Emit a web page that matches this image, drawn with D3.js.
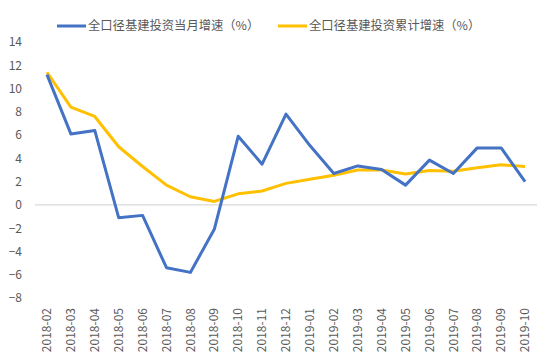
<!DOCTYPE html>
<html><head><meta charset="utf-8">
<script src="https://cdn.jsdelivr.net/npm/d3@7"></script>
<style>body{margin:0;background:#fff}svg{display:block}</style>
</head><body>
<svg id="c" width="558" height="360"></svg>
<script>
const categories = ["2018-02","2018-03","2018-04","2018-05","2018-06","2018-07","2018-08","2018-09","2018-10","2018-11","2018-12","2019-01","2019-02","2019-03","2019-04","2019-05","2019-06","2019-07","2019-08","2019-09","2019-10"];
const monthly = [11.2,6.1,6.4,-1.1,-0.9,-5.4,-5.8,-2.1,5.9,3.5,7.8,5.1,2.7,3.35,3.05,1.7,3.85,2.7,4.9,4.9,2.0];
const cumulative = [11.4,8.4,7.6,5.0,3.3,1.7,0.7,0.3,0.95,1.2,1.85,2.2,2.55,3.0,3.0,2.65,2.95,2.9,3.2,3.45,3.3];
const yTicks = [14,12,10,8,6,4,2,0,-2,-4,-6,-8];
const seriesNames = ["全口径基建投资当月增速（%）","全口径基建投资累计增速（%）"];
const colors = ["#4472C4","#FFC000"];

const svg = d3.select("#c");
const x = d3.scaleBand().domain(categories).range([35,537]);
const y = d3.scaleLinear().domain([-8,14]).range([298,42]);
const font = "'Microsoft YaHei','Noto Sans CJK SC',sans-serif";

// zero line
svg.append("line").attr("x1",35).attr("x2",537).attr("y1",y(0)).attr("y2",y(0))
  .attr("stroke","#d9d9d9").attr("stroke-width",1.3);

// y axis labels
const ya = svg.append("g").attr("transform","translate(22,0)")
  .call(d3.axisLeft(y).tickValues(yTicks).tickSize(0).tickPadding(0));
ya.select(".domain").remove();
ya.selectAll("text").attr("fill","#595959").style("font-size","12px").style("font-family",font);

// x axis labels
const xa = svg.append("g").attr("transform","translate(0,306)")
  .call(d3.axisBottom(x).tickSize(0).tickPadding(0));
xa.select(".domain").remove();
xa.selectAll("text").attr("fill","#595959").style("font-size","12px").style("font-family",font)
  .attr("text-anchor","end").attr("dy","0.35em").attr("dx",0).attr("y",0)
  .attr("transform","rotate(-90)").attr("x",-2);

const line = d3.line().x((d,i)=>x(categories[i])+x.bandwidth()/2).y(d=>y(d));
[cumulative, monthly].forEach((s,k)=>{
  const c = k===0 ? colors[1] : colors[0];
  svg.append("path").datum(s).attr("d",line).attr("fill","none")
    .attr("stroke",c).attr("stroke-width",3).attr("stroke-linejoin","round");
});

// legend
const lg = [{x:57,name:seriesNames[0],c:colors[0]},{x:278,name:seriesNames[1],c:colors[1]}];
lg.forEach(l=>{
  svg.append("line").attr("x1",l.x).attr("x2",l.x+29).attr("y1",26).attr("y2",26)
    .attr("stroke",l.c).attr("stroke-width",3);
  svg.append("text").attr("x",l.x+31).attr("y",26).attr("dy","0.35em")
    .attr("fill","#595959").style("font-size","12.3px").style("font-family",font).text(l.name);
});
</script>
</body></html>
